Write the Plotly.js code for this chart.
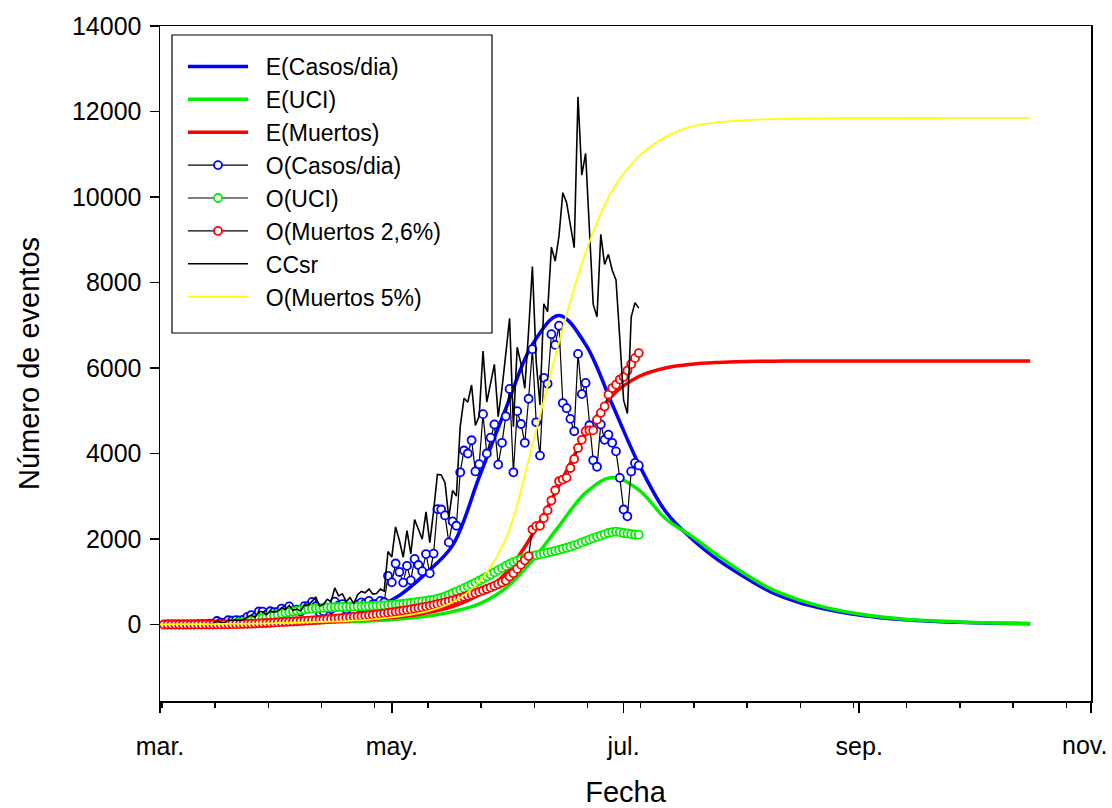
<!DOCTYPE html>
<html><head><meta charset="utf-8">
<script src="https://cdn.plot.ly/plotly-3.0.1.min.js"></script>
<style>html,body{margin:0;padding:0;background:#fff}#chart{width:1112px;height:808px}</style>
</head><body><div id="chart"></div>
<script>
// ---- model (E) curves: weekly points from 2020-03-01, last point 2020-10-16
const eStart = '2020-03-01';
const eDayOffsets = [0,7,14,21,28,35,42,49,56,63,70,77,84,91,98,105,112,119,126,133,140,147,154,161,168,175,182,189,196,203,210,217,224,229];
const eCasos   = [10,15,25,40,60,95,145,230,380,680,1200,1850,3450,5050,6550,7230,6550,5150,3750,2650,2000,1500,1100,750,520,360,245,165,110,75,50,35,25,20];
const eUCI     = [5,8,12,18,25,35,48,65,90,130,190,300,480,850,1500,2300,3080,3440,3150,2480,2060,1600,1180,820,580,400,275,185,125,85,58,40,28,22];
const eMuertos = [5,8,12,18,28,42,60,88,125,180,270,420,700,1200,2100,3250,4450,5350,5800,6000,6090,6130,6150,6160,6162,6164,6165,6165,6165,6165,6165,6165,6165,6165];
const oMuertos5 = [4,6,10,15,25,40,60,80,120,190,300,520,1000,2000,4200,6600,8700,10150,10950,11400,11650,11750,11800,11820,11835,11840,11845,11845,11848,11848,11850,11850,11850,11850];

// ---- observed daily series
const casosStart = '2020-03-03';
const oCasos = [1,2,1,1,2,3,3,4,6,10,10,18,14,81,45,37,104,92,103,95,114,176,220,164,304,299,230,310,289,
 293,373,333,424,310,344,301,430,426,529,426,286,312,392,356,534,445,478,358,419,325,464,516,494,552,473,482,552,520,1138,
 985,1427,1228,980,1373,1032,1533,1391,1247,1647,1197,1658,
 2700,2690,2550,1920,2410,2310,3560,4070,4000,4310,3580,3750,4920,4000,4370,4680,3740,4250,4870,
 5510,3560,4990,4690,4250,5280,6440,4730,3950,5770,5630,6790,6540,6990,5180,5060,4810,4520,6330,5390,5650,4660,3840,3690,4680,4320,4440,4250,4050,3430,
 2690,2530,3580,3780,3720];

const uciStart = '2020-03-21';
const oUCI = [30,40,55,70,90,110,130,150,170,190,210,
 230,250,270,290,305,320,335,350,360,370,378,385,390,395,400,403,406,410,412,415,417,420,422,425,428,432,436,440,445,452,
 460,468,476,485,495,505,515,527,540,553,567,582,600,625,655,690,730,770,810,850,890,935,980,1025,1070,1120,1170,1220,1270,1320,1370,
 1420,1460,1495,1525,1550,1575,1600,1620,1640,1660,1680,1700,1720,1745,1770,1795,1820,1850,1880,1920,1950,1985,2020,2050,2080,2110,2140,2160,2170,2160,
 2140,2130,2115,2105,2100];

const muertosStart = '2020-03-02';
const oMuertos26 = [0,0,0,0,0,0,0,0,0,0,0,0,0,0,1,2,3,4,6,8,10,12,15,18,22,26,30,35,40,45,
 50,55,60,65,70,75,80,86,92,98,104,110,117,124,131,138,145,152,160,168,176,185,194,203,212,222,232,243,255,268,
 281,295,309,323,338,353,368,384,400,418,436,455,475,496,518,541,565,590,616,643,671,700,730,762,795,830,866,903,942,983,1026,
 1120,1200,1300,1400,1500,1600,2220,2300,2310,2490,2670,2900,3140,3350,3390,3430,3660,3870,4130,4320,4520,4540,4540,4790,4950,5100,5380,5530,5610,5730,
 5790,5940,6090,6230,6350];

const ccsrStart = '2020-03-14';
const ccsr = [18,14,81,45,37,104,92,103,95,114,176,220,164,304,299,230,310,289,
 308,392,350,445,326,361,316,452,447,555,639,429,468,588,534,854,668,717,537,629,488,696,774,741,828,710,723,828,780,1707,
 1576,2283,1965,1568,2197,1651,2453,2226,1995,2635,1915,2653,
 3510,3497,3315,2496,3133,3003,4628,5291,5200,5603,4654,4875,6396,5200,5681,6084,4862,5525,6331,
 7163,4628,6487,6097,5525,6864,8372,6149,5135,7501,7319,8827,8502,9087,10101,9867,9380,8814,12344,10511,11018,9087,7488,7196,9126,8424,8658,8288,8060,6689,
 5246,4934,7190,7530,7400];

const xTickVals = ['2020-03-01','2020-05-01','2020-07-01','2020-09-01','2020-11-01'];
const xTickText = ['mar.','may.','jul.','sep.','nov.'];
const seriesNames = ['E(Casos/dia)','E(UCI)','E(Muertos)','O(Casos/dia)','O(UCI)','O(Muertos 2,6%)','CCsr','O(Muertos 5%)'];

function addDays(start, n){
  const d = new Date(start + 'T00:00:00Z');
  d.setUTCDate(d.getUTCDate() + n);
  return d.toISOString().slice(0,10);
}
function dailyDates(start, len){ return Array.from({length: len}, (_, i) => addDays(start, i)); }
const eDates = eDayOffsets.map(o => addDays(eStart, o));

const FONT = 'Liberation Sans, Arial, sans-serif';
const PAD = '\u00a0\u00a0';
const obsMarker = c => ({symbol:'circle', size:8, color:'#ffffff', line:{color:c, width:1.8}});

const traces = [
  {x:eDates, y:eCasos, name:PAD+seriesNames[0], mode:'lines', line:{color:'#0000ff', width:3.5, shape:'spline', smoothing:1}},
  {x:eDates, y:eUCI, name:PAD+seriesNames[1], mode:'lines', line:{color:'#00ee00', width:3.5, shape:'spline', smoothing:1}},
  {x:eDates, y:eMuertos, name:PAD+seriesNames[2], mode:'lines', line:{color:'#ff0000', width:3.5, shape:'spline', smoothing:1}},
  {x:dailyDates(casosStart, oCasos.length), y:oCasos, name:PAD+seriesNames[3], mode:'lines+markers', line:{color:'#000', width:1.2}, marker:obsMarker('#0000ff')},
  {x:dailyDates(uciStart, oUCI.length), y:oUCI, name:PAD+seriesNames[4], mode:'lines+markers', line:{color:'#000', width:1.2}, marker:obsMarker('#00ee00')},
  {x:dailyDates(muertosStart, oMuertos26.length), y:oMuertos26, name:PAD+seriesNames[5], mode:'lines+markers', line:{color:'#000', width:1.2}, marker:obsMarker('#ff0000')},
  {x:dailyDates(ccsrStart, ccsr.length), y:ccsr, name:PAD+seriesNames[6], mode:'lines', line:{color:'#000', width:1.6}},
  {x:eDates, y:oMuertos5, name:PAD+seriesNames[7], mode:'lines', line:{color:'#ffff00', width:1.8, shape:'spline', smoothing:1}}
];

// the last month label is drawn right-aligned next to its tick so it stays inside the page
const lastIdx = xTickVals.length - 1;
const shownTickText = xTickText.map((t, i) => i === lastIdx ? '' : t);

const layout = {
  width:1112, height:808,
  margin:{l:160, r:21, t:26, b:107},
  paper_bgcolor:'#fff', plot_bgcolor:'#fff',
  font:{family:FONT, color:'#000'},
  showlegend:true,
  legend:{x:0.0247, y:0.9719, xanchor:'left', yanchor:'top', bgcolor:'rgba(0,0,0,0)', borderwidth:0,
          font:{family:FONT, size:23, color:'#000'}, itemwidth:60, traceorder:'normal'},
  shapes:[{type:'rect', xref:'paper', yref:'paper', x0:0.01289, x1:0.3566, y0:0.54519, y1:0.98667,
           line:{color:'#000', width:1.2}, fillcolor:'#fff', layer:'below'}],
  annotations:[{x:xTickVals[lastIdx], xref:'x', y:-0.0652, yref:'paper', text:xTickText[lastIdx], showarrow:false,
                xanchor:'right', yanchor:'middle', xshift:18, font:{family:FONT, size:25, color:'#000'}}],
  xaxis:{type:'date', range:['2020-03-01','2020-11-01'], tickvals:xTickVals, ticktext:shownTickText,
         ticks:'outside', ticklen:10, tickwidth:1.5, tickcolor:'#000', showline:true, mirror:true, linecolor:'#000', linewidth:1.5,
         showgrid:false, zeroline:false, tickfont:{family:FONT, size:25}, ticklabelstandoff:12,
         minor:{tick0:'2020-03-01 12:00', dtick:14*86400000, ticks:'outside', ticklen:5, tickwidth:1.5, tickcolor:'#000', showgrid:false},
         title:{text:'Fecha', font:{family:FONT, size:29}, standoff:37}},
  yaxis:{range:[-1790, 14000], tick0:0, dtick:2000, ticks:'outside', ticklen:9, tickwidth:1.5, tickcolor:'#000',
         showline:true, mirror:true, linecolor:'#000', linewidth:1.5, showgrid:false, zeroline:false,
         tickfont:{family:FONT, size:25}, tickformat:'d', ticklabelstandoff:3,
         title:{text:'Número de eventos', font:{family:FONT, size:29}, standoff:24}}
};

Plotly.newPlot('chart', traces, layout, {displayModeBar:false, staticPlot:true});
</script>
</body></html>
